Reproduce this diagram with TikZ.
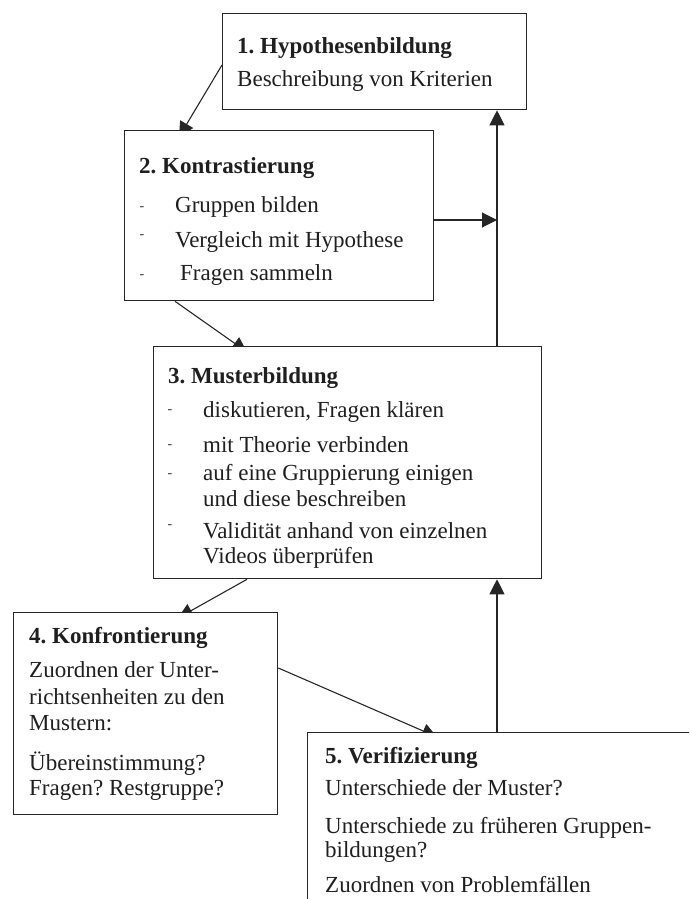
\documentclass[tikz,border=0pt]{standalone}
\usepackage{fontspec}
\setmainfont{Liberation Serif}
\usetikzlibrary{arrows.meta,calc}
\pgfdeclarelayer{behind}
\pgfsetlayers{behind,main}
\frenchspacing
\begin{document}
\begin{tikzpicture}[x=1pt,y=-1pt,
  box/.style={draw=black!85, fill=white, line width=1.3pt, anchor=north west, inner sep=0pt, rectangle},
  txt/.style={anchor=base west, inner sep=0pt, text=black!88, font=\fontsize{23}{26}\selectfont},
  head/.style={txt, font=\fontsize{23}{26}\selectfont\bfseries},
  bullet/.style={anchor=center, inner sep=0pt, text=black!80, font=\fontsize{14}{14}\selectfont},
  arr/.style={draw=black!85, line width=1.1pt, -{Triangle[length=15pt,width=15pt]}},
]
\useasboundingbox (0,0) rectangle (689,899);
\clip (0,0) rectangle (689,899);

% boxes
\node[box, minimum width=304pt, minimum height=96pt]  (b1) at (222,13)  {};
\node[box, minimum width=309pt, minimum height=170pt] (b2) at (124,130) {};
\node[box, minimum width=388pt, minimum height=232pt] (b3) at (153,346) {};
\node[box, minimum width=264pt, minimum height=202pt] (b4) at (13,612)  {};
\node[box, minimum width=420pt, minimum height=220pt] (b5) at (307,732) {};

% 1. Hypothesenbildung
\node[head] (h1)  at (237,54) {1. Hypothesenbildung};
\node[txt]  (t1a) at (237,86) {Beschreibung von Kriterien};

% 2. Kontrastierung
\node[head] (h2)  at (139,173) {2. Kontrastierung};
\node[bullet] (d2a) at (142,209) {-};
\node[bullet] (d2b) at (142,237) {-};
\node[bullet] (d2c) at (142,277) {-};
\node[txt] (t2a) at (175,212.5) {Gruppen bilden};
\node[txt] (t2b) at (175,247.5) {Vergleich mit Hypothese};
\node[txt] (t2c) at (180,280.5) {Fragen sammeln};

% 3. Musterbildung
\node[head] (h3)  at (168,383) {3. Musterbildung};
\node[bullet] (d3a) at (170,412) {-};
\node[bullet] (d3b) at (170,447) {-};
\node[bullet] (d3c) at (170,476) {-};
\node[bullet] (d3d) at (170,527) {-};
\node[txt] (t3a) at (203,417) {diskutieren, Fragen klären};
\node[txt] (t3b) at (203,452) {mit Theorie verbinden};
\node[txt] (t3c) at (203,480) {auf eine Gruppierung einigen};
\node[txt] (t3d) at (203,506) {und diese beschreiben};
\node[txt] (t3e) at (203,538) {Validität anhand von einzelnen};
\node[txt] (t3f) at (203,563) {Videos überprüfen};

% 4. Konfrontierung
\node[head] (h4)  at (29,643) {4. Konfrontierung};
\node[txt] (t4a) at (29,677.5) {Zuordnen der Unter-};
\node[txt] (t4b) at (29,704) {richtsenheiten zu den};
\node[txt] (t4c) at (29,730.5) {Mustern:};
\node[txt] (t4d) at (29,770) {Übereinstimmung?};
\node[txt] (t4e) at (29,795) {Fragen? Restgruppe?};

% 5. Verifizierung
\node[head] (h5)  at (325,763) {5. Verifizierung};
\node[txt] (t5a) at (325,795) {Unterschiede der Muster?};
\node[txt] (t5b) at (325,833) {Unterschiede zu früheren Gruppen-};
\node[txt] (t5c) at (325,857) {bildungen?};
\node[txt] (t5d) at (325,892) {Zuordnen von Problemfällen};

% connectors, drawn behind the boxes so that slanted tips tuck under the frames
\begin{pgfonlayer}{behind}
\coordinate (c1s) at ($(b1.north west)+(0,52)$);
\coordinate (c1e) at ($(b2.north west)+(55,7)$);
\draw[arr] (c1s) -- (c1e);

\coordinate (up1s) at ($(b3.north west)+(344,0)$);
\draw[arr] (up1s) -- (up1s |- b1.south);

\coordinate (c2s) at ($(b2.north east)+(0,90)$);
\coordinate (c2e) at (up1s |- c2s);
\draw[arr] (c2s) -- (c2e);

\coordinate (c3s) at ($(b2.south west)+(51,0)$);
\coordinate (c3e) at ($(b3.north west)+(94,6)$);
\draw[arr] (c3s) -- (c3e);

\coordinate (c4s) at ($(b3.south west)+(94,0)$);
\coordinate (c4e) at ($(b4.north west)+(165,6)$);
\draw[arr] (c4s) -- (c4e);

\coordinate (c5s) at ($(b4.north east)+(0,56)$);
\coordinate (c5e) at ($(b5.north west)+(130,5)$);
\draw[arr] (c5s) -- (c5e);

\coordinate (up2s) at ($(b5.north west)+(190,0)$);
\draw[arr] (up2s) -- (up2s |- b3.south);
\end{pgfonlayer}
\end{tikzpicture}
\end{document}
